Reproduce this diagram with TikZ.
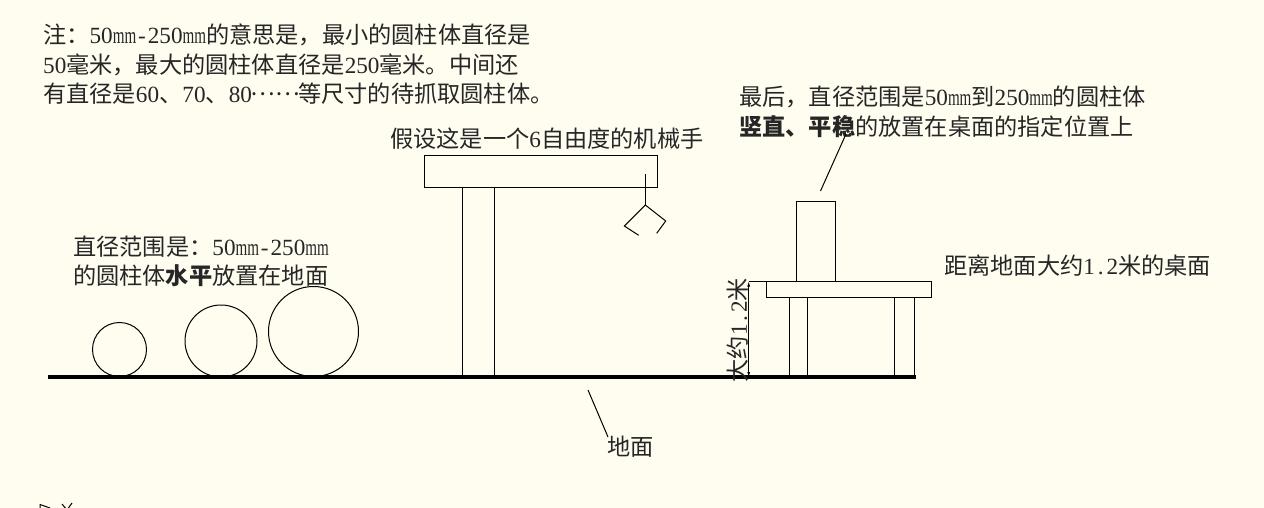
\documentclass[tikz,border=0pt]{standalone}
\usepackage{fontspec}
\usetikzlibrary{arrows.meta}
\setmainfont{Noto Sans CJK SC}
\newfontfamily\latfont{Liberation Serif}
\newfontfamily\mmfont[FakeStretch=0.65]{Liberation Serif}
\newcommand{\lat}[1]{{\latfont #1}}
\newcommand{\mm}{{\mmfont mm}}
\newcommand{\hy}{\makebox[.5em]{\latfont -}}
\newcommand{\pt}{\makebox[.5em]{\latfont .}}
\newcommand{\ellip}{\raisebox{.32em}{\makebox[2em]{……}}}
\definecolor{paper}{HTML}{FFFCF0}
\tikzset{
    caption/.style={inner sep=0pt,anchor=west,align=left,text=black!85,font=\fontsize{23.2}{29.5}\selectfont},
    outline/.style={line width=1pt},
}

\begin{document}
\begin{tikzpicture}[x=1pt,y=-1pt]
    \useasboundingbox (0,0) rectangle (1264,508);
    \fill[paper] (0,0) rectangle (1264,508);
    % ground
    \coordinate (groundleft) at (48,377);
    \coordinate (groundright) at (916,377);
    \draw[line width=4pt] (groundleft) -- (groundright);
    % cylinders lying on the ground
    \draw[outline] (119.5,349.5) circle(27);
    \draw[outline] (221,341) circle(36);
    \draw[outline] (313.5,331.5) circle(45);
    % robot
    \draw[outline] (424,156) rectangle (657,187);
    \draw[outline] (462,187) -- (462,377);
    \draw[outline] (494,187) -- (494,377);
    \draw[outline] (645.3,174) -- (645.3,205);
    \draw[outline] (638.7,235.3) -- (624.3,226) -- (645.3,205) -- (665.7,221) -- (656.7,233.3);
    % table and upright cylinder
    \draw[outline] (796.3,201.3) rectangle (835.3,281.5);
    \draw[outline] (766.3,281.5) rectangle (931.5,297);
    \draw[outline] (789.5,297) -- (789.5,377);
    \draw[outline] (807.3,297) -- (807.3,377);
    \draw[outline] (894.7,297) -- (894.7,377);
    \draw[outline] (914.3,297) -- (914.3,377);
    % height of the table
    \coordinate (tabletop) at (748.7,281.5);
    \coordinate (tablefoot) at (748.7,377);
    \draw[outline] (tabletop) -- (766.3,281.5);
    \draw[line width=0.8pt,{Latex[length=5pt,width=3pt]}-{Latex[length=5pt,width=3pt]}] (tabletop) -- (tablefoot);
    \node[caption,anchor=center,rotate=90] (tableheight) at (738,330) {大约\lat{1}\pt\lat{2}米};
    % texts
    \node[caption] (note) at (43,64.5) {注：\lat{50}\mm\hy\lat{250}\mm 的意思是，最小的圆柱体直径是\\\lat{50}毫米，最大的圆柱体直径是\lat{250}毫米。中间还\\有直径是\lat{60}、\lat{70}、\lat{80}\ellip 等尺寸的待抓取圆柱体。};
    \node[caption] (robotlabel) at (390,139) {假设这是一个\lat{6}自由度的机械手};
    \node[caption] (placelabel) at (739,112) {最后，直径范围是\lat{50}\mm 到\lat{250}\mm 的圆柱体\\\textbf{竖直、平稳}的放置在桌面的指定位置上};
    \node[caption] (rangelabel) at (73,261.5) {直径范围是：\lat{50}\mm\hy\lat{250}\mm\\的圆柱体\textbf{水平}放置在地面};
    \node[caption] (tablelabel) at (944,266) {距离地面大约\lat{1}\pt\lat{2}米的桌面};
    \node[caption] (groundlabel) at (607,447) {地面};
    % leaders
    \coordinate (placetip) at (820.5,191);
    \coordinate (placeend) at (846,134);
    \draw[outline] (placetip) -- (placeend);
    \coordinate (groundtip) at (588,390);
    \coordinate (groundend) at (608,437);
    \draw[outline] (groundtip) -- (groundend);
    % scrap of the axis icon
    \draw[outline] (40,508) -- (40,504.5) -- (50,508);
    \draw[outline] (62,504) -- (67,510) -- (72,503);
\end{tikzpicture}
\end{document}
